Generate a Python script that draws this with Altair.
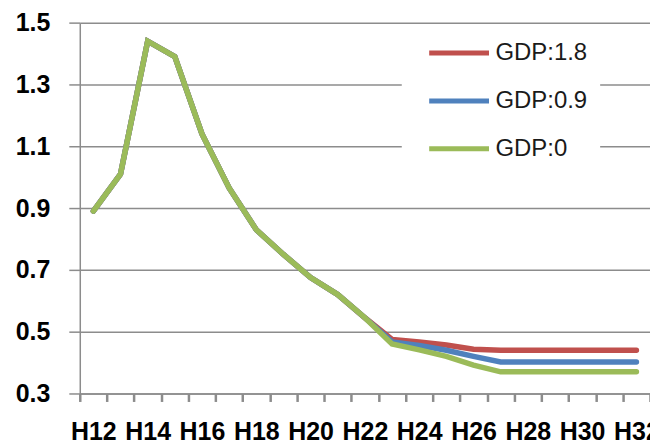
import altair as alt
import pandas as pd

cats = ["H12", "H13", "H14", "H15", "H16", "H17", "H18", "H19", "H20", "H21", "H22",
        "H23", "H24", "H25", "H26", "H27", "H28", "H29", "H30", "H31", "H32"]
gdp_18 = [0.89, 1.01, 1.44, 1.39, 1.14, 0.965, 0.83, 0.75, 0.675, 0.62, 0.545,
          0.475, 0.467, 0.457, 0.443, 0.44, 0.44, 0.44, 0.44, 0.44, 0.44]
gdp_09 = [0.89, 1.01, 1.44, 1.39, 1.14, 0.965, 0.83, 0.75, 0.675, 0.62, 0.545,
          0.467, 0.455, 0.44, 0.42, 0.402, 0.402, 0.402, 0.402, 0.402, 0.402]
gdp_00 = [0.89, 1.01, 1.44, 1.39, 1.14, 0.965, 0.83, 0.75, 0.675, 0.62, 0.545,
          0.46, 0.441, 0.42, 0.392, 0.37, 0.37, 0.37, 0.37, 0.37, 0.37]
series_names = ["GDP:1.8", "GDP:0.9", "GDP:0"]
series_colors = ["#C0504D", "#4F81BD", "#9BBB59"]
y_ticks = [0.3, 0.5, 0.7, 0.9, 1.1, 1.3, 1.5]

rows = []
for name, vals in zip(series_names, [gdp_18, gdp_09, gdp_00]):
    for c, v in zip(cats, vals):
        rows.append({"cat": c, "value": v, "series": name})
df = pd.DataFrame(rows)

grid_col = "#8c8c8c"

chart = alt.Chart(df).mark_line(strokeWidth=5.5, strokeCap="round").encode(
    x=alt.X("cat:N", sort=cats, bandPosition=0.5,
            scale=alt.Scale(type="band", paddingInner=0, paddingOuter=0),
            axis=alt.Axis(title=None, labelAngle=0, tickBand="extent",
                          labelExpr="parseInt(substring(datum.value, 1)) % 2 == 0 ? datum.value : ''",
                          labelFont="Liberation Sans", labelFontWeight="bold", labelFontSize=25,
                          labelColor="#000000", labelPadding=18, tickSize=8, tickWidth=2.5,
                          tickColor=grid_col, domainColor=grid_col, domainWidth=1.5,
                          labelOverlap=False, grid=False)),
    y=alt.Y("value:Q",
            scale=alt.Scale(domain=[0.3, 1.5], nice=False, zero=False),
            axis=alt.Axis(title=None, values=y_ticks, format=".1f",
                          labelFont="Liberation Sans", labelFontWeight="bold", labelFontSize=25,
                          labelColor="#000000", labelPadding=19, tickSize=11, tickWidth=1.5,
                          tickColor=grid_col, domainColor=grid_col, domainWidth=1.5,
                          gridColor=grid_col, gridWidth=1.5)),
    color=alt.Color("series:N", sort=series_names,
                    scale=alt.Scale(domain=series_names, range=series_colors),
                    legend=alt.Legend(title=None, orient="none", legendX=323, legendY=6,
                                      fillColor="#ffffff", padding=12,
                                      symbolType="M0.3,0H6.3", symbolSize=400,
                                      symbolStrokeWidth=5, labelOffset=57,
                                      labelFont="Liberation Sans", labelFontSize=24,
                                      labelColor="#1a1a1a", rowPadding=23)),
).properties(
    width=572, height=372,
    autosize=alt.AutoSizeParams(type="none"),
    padding={"left": 72, "top": 14, "right": 0, "bottom": 50},
).configure_view(stroke=None)

chart.save("out.html", embed_options={"renderer": "svg", "actions": False})
